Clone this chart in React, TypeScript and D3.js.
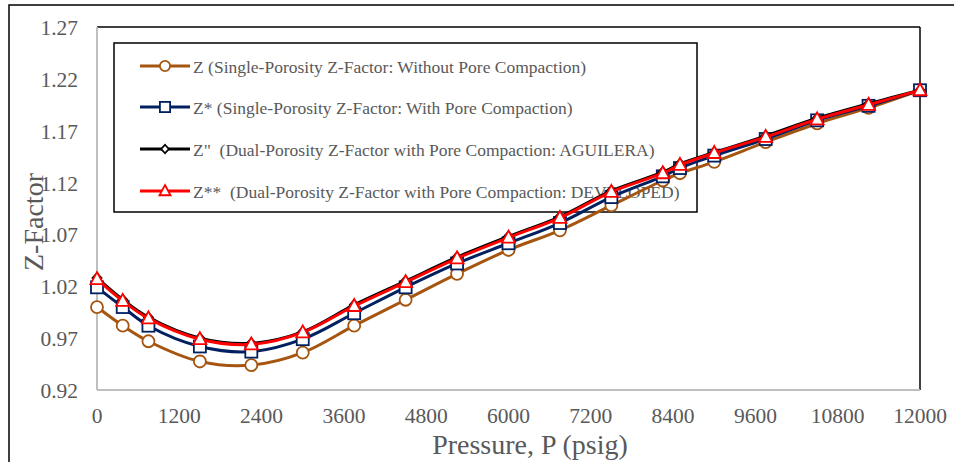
import React from "react"
import * as d3 from "d3"

// pressure points (psig)
const pressure = [0, 375, 750, 1500, 2250, 3000, 3750, 4500, 5250, 6000, 6750, 7500, 8250, 8500, 9000, 9750, 10500, 11250, 12000]

// Z-factor series
const zSingle = [1.000, 0.982, 0.967, 0.9475, 0.944, 0.956, 0.982, 1.007, 1.032, 1.055, 1.074, 1.098, 1.122, 1.129, 1.140, 1.159, 1.177, 1.192, 1.209]
const zStar = [1.019, 1.000, 0.982, 0.962, 0.957, 0.969, 0.994, 1.019, 1.042, 1.0615, 1.081, 1.106, 1.126, 1.134, 1.146, 1.162, 1.180, 1.194, 1.209]
const zAguilera = [1.028, 1.007, 0.990, 0.970, 0.965, 0.976, 1.002, 1.025, 1.048, 1.068, 1.087, 1.112, 1.130, 1.138, 1.149, 1.165, 1.182, 1.196, 1.209]
const zDeveloped = [1.027, 1.006, 0.989, 0.969, 0.964, 0.9755, 1.001, 1.024, 1.047, 1.067, 1.086, 1.111, 1.129, 1.137, 1.1485, 1.164, 1.181, 1.195, 1.209]

const xTicks = [0, 1200, 2400, 3600, 4800, 6000, 7200, 8400, 9600, 10800, 12000]
const yTicks = [0.92, 0.97, 1.02, 1.07, 1.12, 1.17, 1.22, 1.27]

const legendLabels = [
    "Z (Single-Porosity Z-Factor: Without Pore Compaction)",
    "Z* (Single-Porosity Z-Factor: With Pore Compaction)",
    "Z\"  (Dual-Porosity Z-Factor with Pore Compaction: AGUILERA)",
    "Z**  (Dual-Porosity Z-Factor with Pore Compaction: DEVELOPED)",
]

const series = [
    { values: zSingle, color: "#A5550F", marker: "circle" },
    { values: zStar, color: "#002060", marker: "square" },
    { values: zAguilera, color: "#000000", marker: "diamond" },
    { values: zDeveloped, color: "#FF0000", marker: "triangle" },
]

const font = "'Liberation Serif', 'Times New Roman', serif"
const textColor = "#595959"

function Marker({ type, x, y, color, s = 1 }) {
    if (type === "circle") {
        return <circle cx={x} cy={y} r={6 * s} fill="white" stroke={color} strokeWidth={1.8} />
    }
    if (type === "square") {
        return <rect x={x - 6 * s} y={y - 6 * s} width={12 * s} height={12 * s} fill="white" stroke={color} strokeWidth={1.8} />
    }
    if (type === "diamond") {
        return <path d={`M${x},${y - 5 * s}L${x + 4.5 * s},${y}L${x},${y + 5 * s}L${x - 4.5 * s},${y}Z`} fill="white" stroke={color} strokeWidth={1.8} />
    }
    return <path d={`M${x},${y - 7 * s}L${x + 6.5 * s},${y + 5 * s}L${x - 6.5 * s},${y + 5 * s}Z`} fill="white" stroke={color} strokeWidth={1.8} />
}

export default function App() {
    const left = 97, right = 920, top = 27, bottom = 390

    const x = d3.scaleLinear().domain([0, 12000]).range([left, right])
    const y = d3.scaleLinear().domain([0.92, 1.27]).range([bottom, top])

    const line = d3.line<number>()
        .x((d, i) => x(pressure[i]))
        .y(d => y(d))
        .curve(d3.curveCatmullRom)

    const legendY = [66, 107, 149, 191]

    return (
        <svg width={954} height={462} style={{ position: "absolute", left: 0, top: 0, background: "white" }}>
            {/* outer frame */}
            <rect x={9} y={5} width={960} height={470} fill="white" stroke="#000" strokeWidth={1.5} />

            {/* plot border top/right */}
            <line x1={left} y1={top} x2={right} y2={top} stroke="#000" strokeWidth={1.5} />
            <line x1={right} y1={top} x2={right} y2={bottom} stroke="#000" strokeWidth={1.5} />
            {/* axes */}
            <line x1={left} y1={top} x2={left} y2={bottom} stroke="#BFBFBF" strokeWidth={2} />
            <line x1={left} y1={bottom} x2={right} y2={bottom} stroke="#BFBFBF" strokeWidth={2} />

            {yTicks.map(t => (
                <text key={t} x={78} y={y(t) + 8} textAnchor="end" fontFamily={font} fontSize={21.5} fill={textColor}>
                    {t.toFixed(2)}
                </text>
            ))}
            {xTicks.map(t => (
                <text key={t} x={x(t)} y={423} textAnchor="middle" fontFamily={font} fontSize={21.5} fill={textColor}>
                    {t}
                </text>
            ))}

            <text x={530} y={454} textAnchor="middle" fontFamily={font} fontSize={28} fill={textColor}>
                Pressure, P (psig)
            </text>
            <text transform="translate(43,222) rotate(-90)" textAnchor="middle" fontFamily={font} fontSize={28} fill={textColor}>
                Z-Factor
            </text>

            {/* legend */}
            <rect x={114} y={43} width={583} height={169} fill="white" stroke="#000" strokeWidth={1.5} />
            {series.map((s, i) => (
                <g key={i}>
                    <line x1={140} x2={190} y1={legendY[i]} y2={legendY[i]} stroke={s.color} strokeWidth={3} />
                    <Marker type={s.marker} x={165} y={legendY[i]} color={s.color} s={0.85} />
                    <text x={193} y={legendY[i] + 6.5} fontFamily={font} fontSize={17.5} fill={textColor} style={{ whiteSpace: "pre" }}>
                        {legendLabels[i]}
                    </text>
                </g>
            ))}

            {/* series */}
            {series.map((s, i) => (
                <g key={i}>
                    <path d={line(s.values) || ""} fill="none" stroke={s.color} strokeWidth={3} />
                    {s.values.map((v, j) => (
                        <Marker key={j} type={s.marker} x={x(pressure[j])} y={y(v)} color={s.color} />
                    ))}
                </g>
            ))}
        </svg>
    )
}
